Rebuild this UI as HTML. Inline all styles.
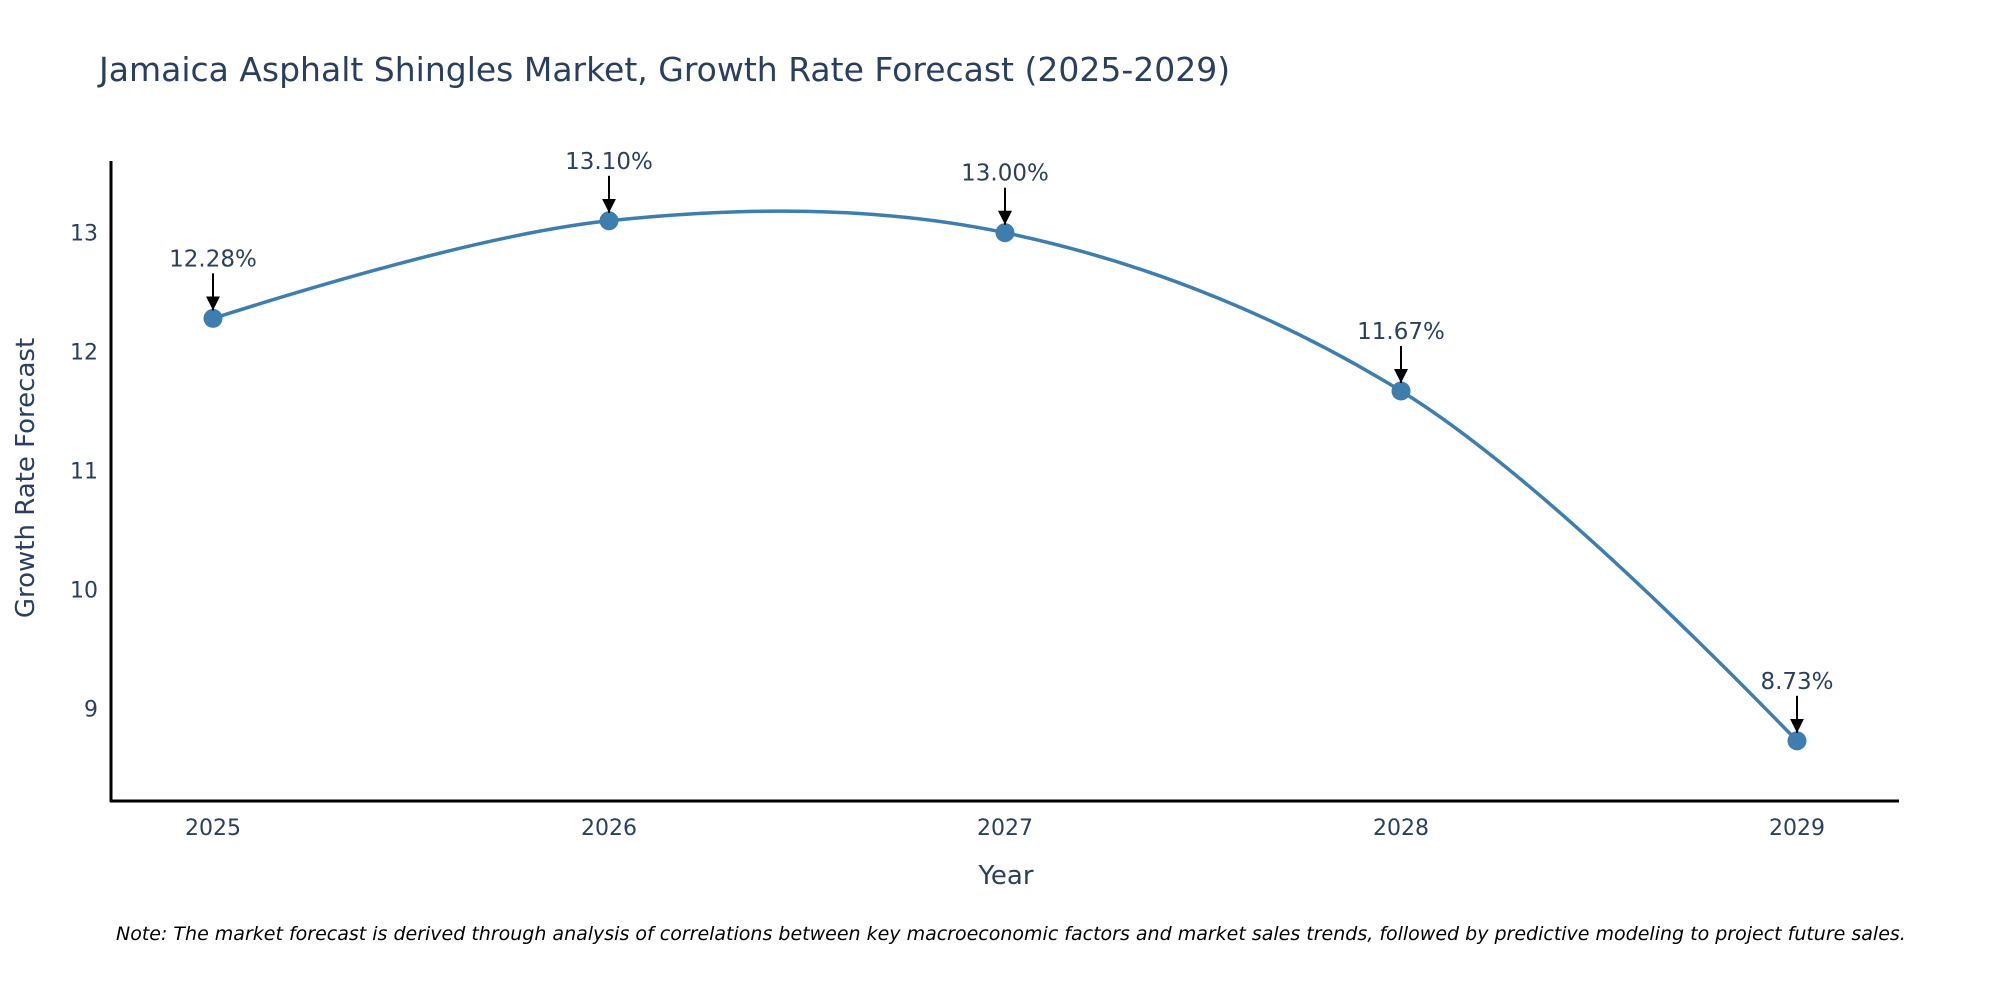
<!DOCTYPE html>
<html><head><meta charset="utf-8"><style>
html,body{margin:0;padding:0;background:#fff;}
svg{display:block;font-family:"DejaVu Sans","Liberation Sans",sans-serif;}
</style></head><body>
<svg id="chart" width="2000" height="1000">
<defs><marker id="arrowhead" viewBox="0 0 10 10" refX="5" refY="10" markerWidth="14" markerHeight="14" markerUnits="userSpaceOnUse" orient="0"><path d="M0,0 L10,0 L5,10 Z" fill="#000"/></marker></defs>
<text x="99" y="81" font-size="33" fill="#2a3f5f">Jamaica Asphalt Shingles Market, Growth Rate Forecast (2025-2029)</text>
<g id="yticks"></g><g id="xticks"></g>
<path id="line" fill="none" stroke="#3d7eae" stroke-width="3.5"/>
<g id="points"></g><g id="annos"></g>
<line x1="111" y1="161" x2="111" y2="802" stroke="#000" stroke-width="3"/>
<line x1="110" y1="801" x2="1899" y2="801" stroke="#000" stroke-width="3"/>
<text x="1006" y="884" font-size="26" fill="#2a3f5f" text-anchor="middle">Year</text>
<text transform="translate(34,478) rotate(-90)" font-size="26" fill="#2a3f5f" text-anchor="middle">Growth Rate Forecast</text>
<text x="116" y="940" font-size="19" font-style="italic" fill="#000">Note: The market forecast is derived through analysis of correlations between key macroeconomic factors and market sales trends, followed by predictive modeling to project future sales.</text>
</svg>
<script>
const years = ["2025","2026","2027","2028","2029"];
const values = [12.28, 13.10, 13.00, 11.67, 8.73];
const labels = ["12.28%","13.10%","13.00%","11.67%","8.73%"];
const yTicks = [9,10,11,12,13];
const NS="http://www.w3.org/2000/svg";
function xs(i){return 213+i*396;}
function ys(v){return 351.7-(v-12)*119;}
function mk(tag,attrs,parent){const e=document.createElementNS(NS,tag);for(const k in attrs)e.setAttribute(k,attrs[k]);parent.appendChild(e);return e;}
const yt=document.getElementById('yticks');
yTicks.forEach(t=>{const e=mk('text',{x:98,y:ys(t)+8,'font-size':22,fill:'#2a3f5f','text-anchor':'end'},yt);


e.textContent=t;});
const xt=document.getElementById('xticks');
years.forEach((y,i)=>{const e=mk('text',{x:xs(i),y:835,'font-size':22,fill:'#2a3f5f','text-anchor':'middle'},xt);


e.textContent=y;});
const P=values.map((v,i)=>[xs(i),ys(v)]);
function makeTangent(p0,p1,p2,s){
  const d1x=p0[0]-p1[0],d1y=p0[1]-p1[1],d2x=p2[0]-p1[0],d2y=p2[1]-p1[1];
  const d1a=Math.pow(d1x*d1x+d1y*d1y,0.25),d2a=Math.pow(d2x*d2x+d2y*d2y,0.25);
  const nx=(d2a*d2a*d1x-d1a*d1a*d2x)*s,ny=(d2a*d2a*d1y-d1a*d1a*d2y)*s;
  const den1=3*d2a*(d1a+d2a),den2=3*d1a*(d1a+d2a);
  return [[p1[0]+nx/den1,p1[1]+ny/den1],[p1[0]-nx/den2,p1[1]-ny/den2]];
}
const T=[];for(let i=1;i<P.length-1;i++)T.push(makeTangent(P[i-1],P[i],P[i+1],1));
let d=`M${P[0]}Q${T[0][0]} ${P[1]}`;
for(let i=1;i<P.length-2;i++)d+=`C${T[i-1][1]} ${T[i][0]} ${P[i+1]}`;
d+=`Q${T[T.length-1][1]} ${P[P.length-1]}`;
document.getElementById('line').setAttribute('d',d);
const pg=document.getElementById('points'),ag=document.getElementById('annos');
values.forEach((v,i)=>{const c=mk('circle',{cx:xs(i),cy:ys(v),r:9.5,fill:'#3d7eae'},pg);


const l=mk('line',{x1:xs(i),y1:ys(v)-45,x2:xs(i),y2:ys(v)-8,stroke:'#000','stroke-width':2,'marker-end':'url(#arrowhead)'},ag);


const t=mk('text',{x:xs(i),y:ys(v)-52,'font-size':23,fill:'#2a3f5f','text-anchor':'middle'},ag);


t.textContent=labels[i];});
</script>
</body></html>
